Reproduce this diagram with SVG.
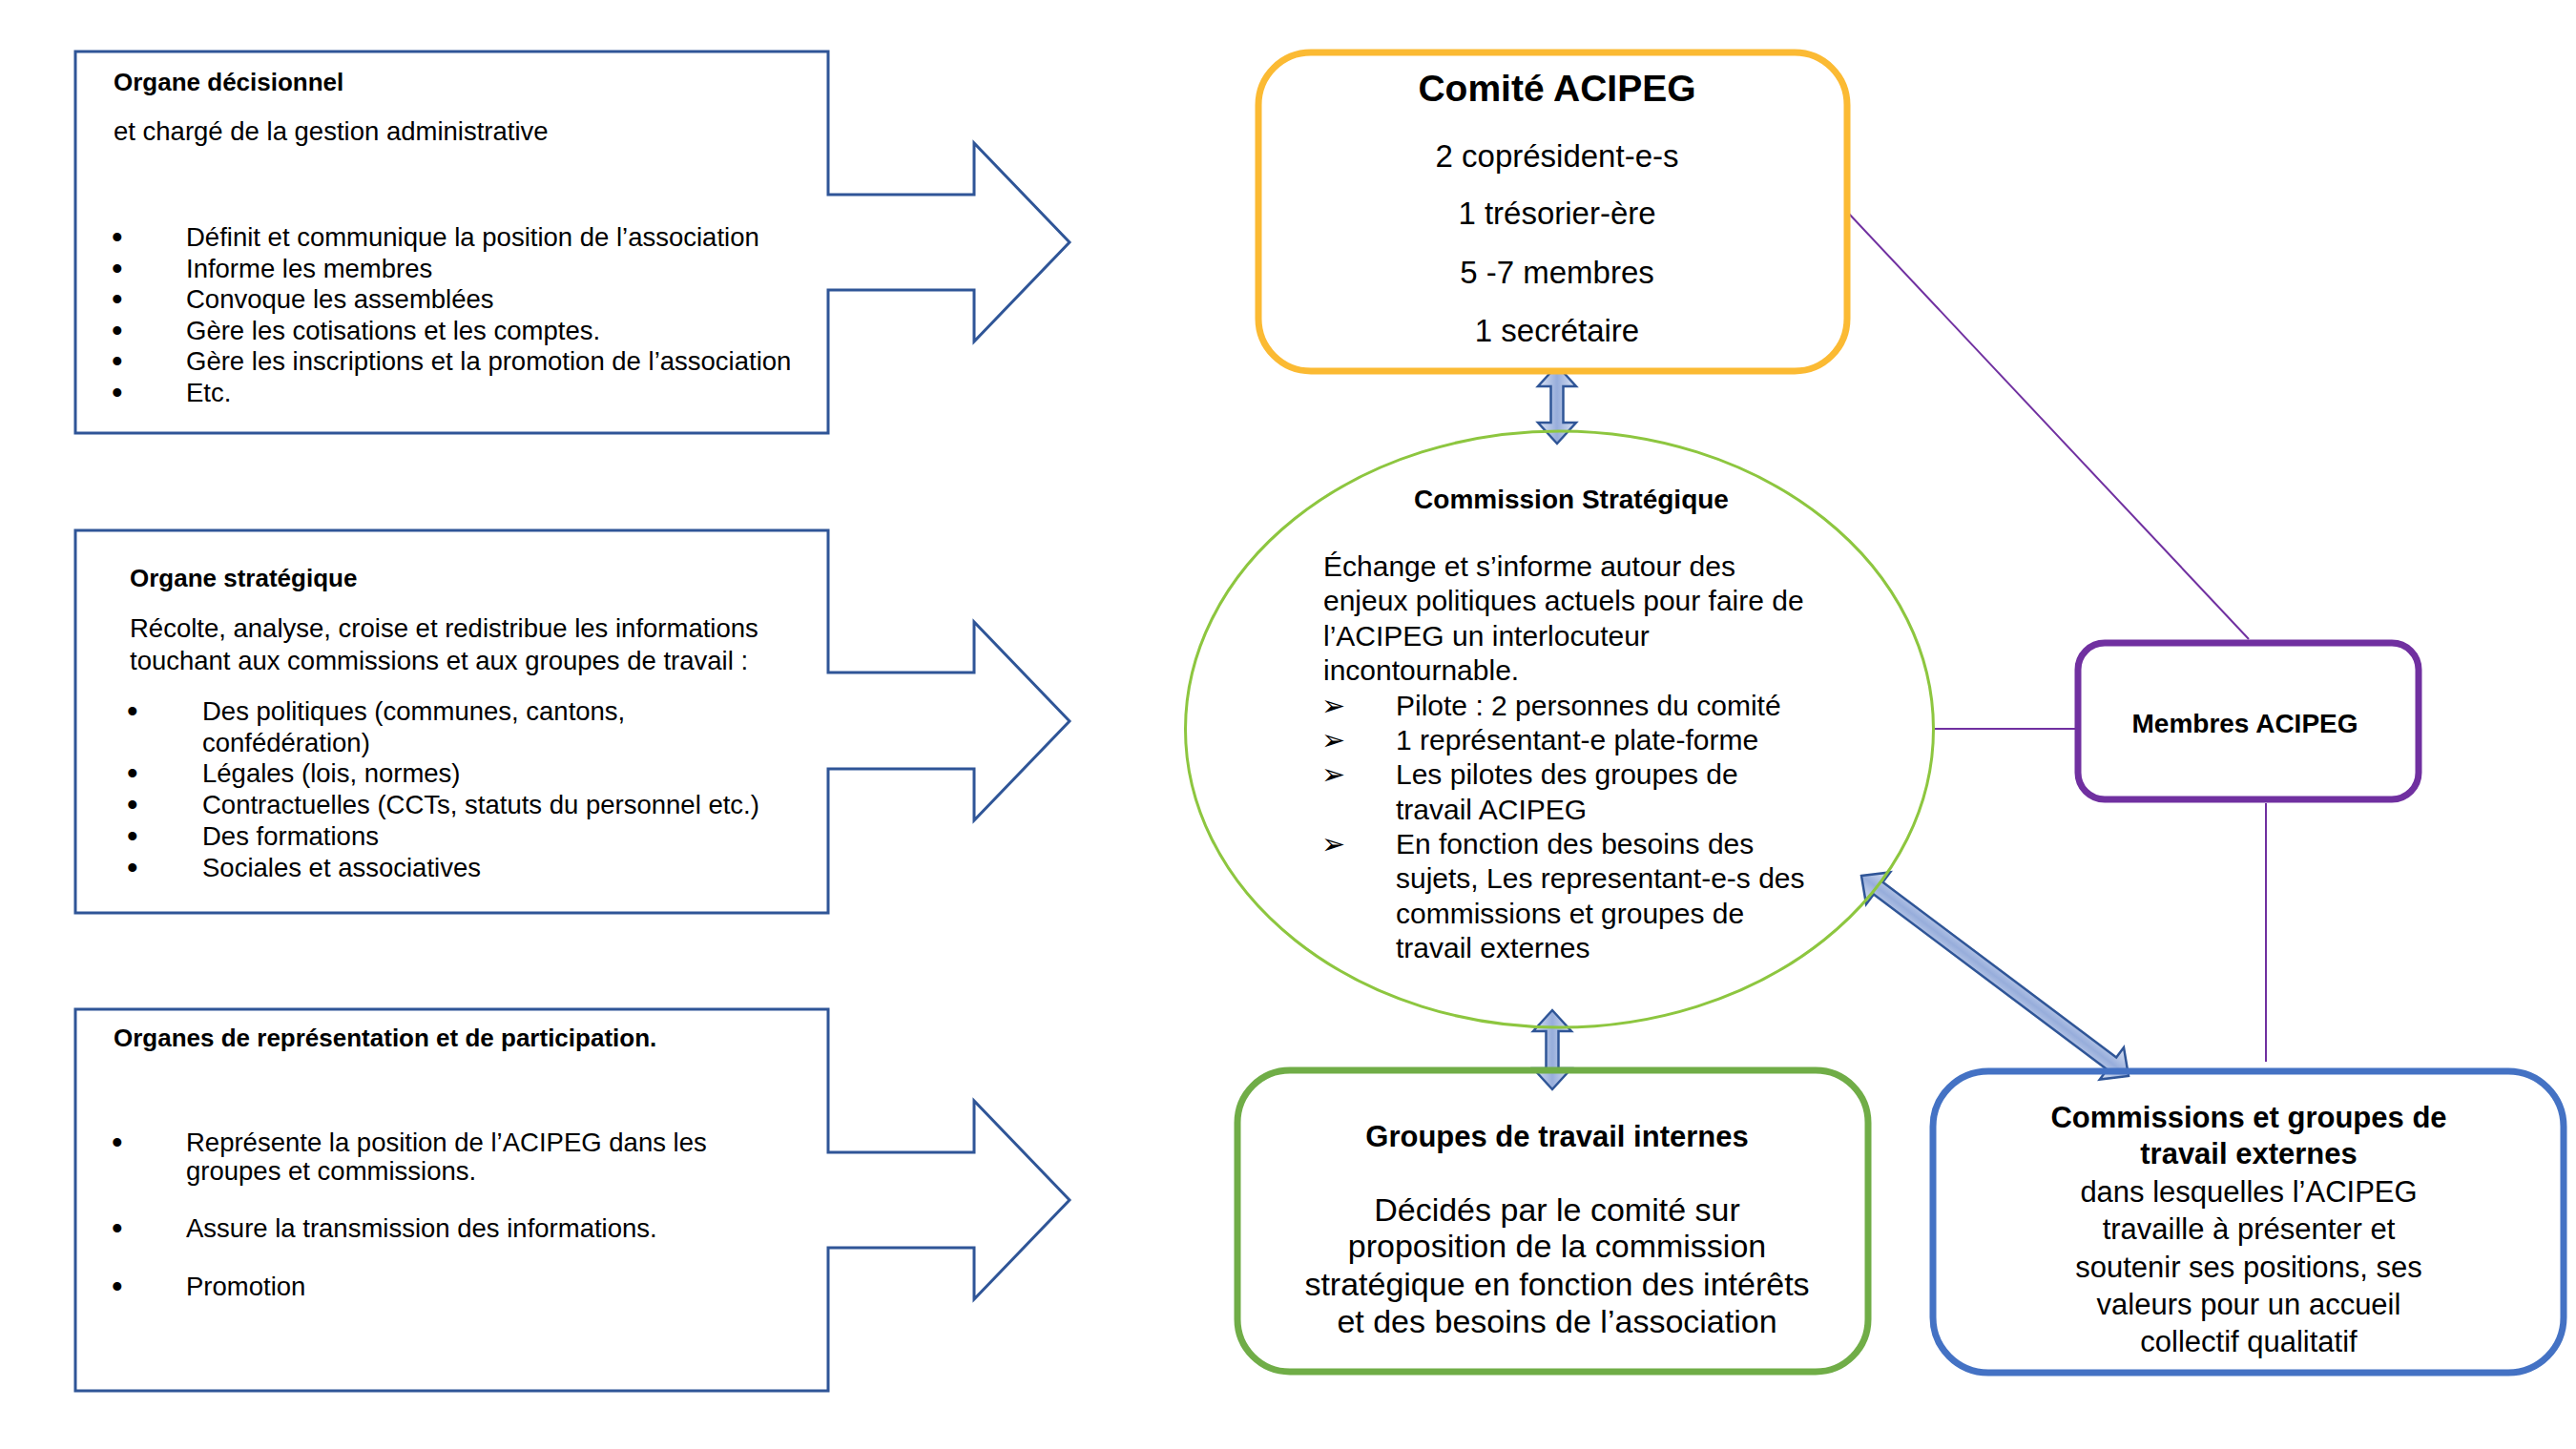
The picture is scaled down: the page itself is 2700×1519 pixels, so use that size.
<svg xmlns="http://www.w3.org/2000/svg" width="2700" height="1519" viewBox="0 0 2700 1519">
<defs>
<style>
text{font-family:"Liberation Sans",Arial,sans-serif;fill:#000}
.b{font-weight:bold}
.lt{font-size:27.5px}
.lh{font-size:26px;font-weight:bold}
.bu{font-size:33px}
.call{fill:#fff;stroke:#2F5597;stroke-width:3}
.conn{stroke:#7030A0;stroke-width:2;fill:none}
.dbl{fill:url(#ag);stroke:#2F5597;stroke-width:2.5;stroke-linejoin:miter}
.c{text-anchor:middle}
.ar{font-family:"DejaVu Sans",sans-serif;font-size:30px}
</style>
<linearGradient id="ag" x1="0" y1="0" x2="0" y2="1">
<stop offset="0" stop-color="#DCE4F4"/>
<stop offset="0.5" stop-color="#97ADDB"/>
<stop offset="1" stop-color="#DCE4F4"/>
</linearGradient>
</defs>
<rect width="2700" height="1519" fill="#fff"/>

<g id="organe-decisionnel">
<path class="call" d="M79,54 H868 V204 H1021 V150 L1121,254 L1021,358 V304 H868 V454 H79 Z"/>
<text class="lh" x="119" y="95">Organe décisionnel</text>
<text class="lt" x="119" y="147">et chargé de la gestion administrative</text>
<g class="lt">
<text class="bu" x="117" y="260">•</text><text x="195" y="258">Définit et communique la position de l’association</text>
<text class="bu" x="117" y="292.6">•</text><text x="195" y="290.6">Informe les membres</text>
<text class="bu" x="117" y="325.2">•</text><text x="195" y="323.2">Convoque les assemblées</text>
<text class="bu" x="117" y="357.8">•</text><text x="195" y="355.8">Gère les cotisations et les comptes.</text>
<text class="bu" x="117" y="390.4">•</text><text x="195" y="388.4">Gère les inscriptions et la promotion de l’association</text>
<text class="bu" x="117" y="423">•</text><text x="195" y="421">Etc.</text>
</g>
</g>

<g id="organe-strategique">
<path class="call" d="M79,556 H868 V705 H1021 V652 L1121,756 L1021,860 V806 H868 V957 H79 Z"/>
<text class="lh" x="136" y="615">Organe stratégique</text>
<text class="lt" x="136" y="668">Récolte, analyse, croise et redistribue les informations</text>
<text class="lt" x="136" y="702">touchant aux commissions et aux groupes de travail :</text>
<g class="lt">
<text class="bu" x="133" y="757">•</text><text x="212" y="755">Des politiques (communes, cantons,</text>
<text x="212" y="787.7">confédération)</text>
<text class="bu" x="133" y="822.4">•</text><text x="212" y="820.4">Légales (lois, normes)</text>
<text class="bu" x="133" y="855">•</text><text x="212" y="853">Contractuelles (CCTs, statuts du personnel etc.)</text>
<text class="bu" x="133" y="887.8">•</text><text x="212" y="885.8">Des formations</text>
<text class="bu" x="133" y="920.5">•</text><text x="212" y="918.5">Sociales et associatives</text>
</g>
</g>

<g id="organes-representation">
<path class="call" d="M79,1058 H868 V1208 H1021 V1154 L1121,1258 L1021,1362 V1308 H868 V1458 H79 Z"/>
<text class="lh" x="119" y="1097">Organes de représentation et de participation.</text>
<g class="lt">
<text class="bu" x="117" y="1209">•</text><text x="195" y="1207">Représente la position de l’ACIPEG dans les</text>
<text x="195" y="1237">groupes et commissions.</text>
<text class="bu" x="117" y="1299">•</text><text x="195" y="1297">Assure la transmission des informations.</text>
<text class="bu" x="117" y="1360">•</text><text x="195" y="1358">Promotion</text>
</g>
</g>

<g id="connectors">
<line class="conn" x1="1937" y1="223" x2="2357" y2="670"/>
<line class="conn" x1="2027" y1="764" x2="2176" y2="764"/>
<line class="conn" x1="2375" y1="842" x2="2375" y2="1113"/>
<polygon class="dbl" transform="translate(1632,383) rotate(90)" points="0,0 22,-20 22,-6.5 60,-6.5 60,-20 82,0 60,20 60,6.5 22,6.5 22,20"/>
<polygon class="dbl" transform="translate(1627,1059) rotate(90)" points="0,0 22,-20 22,-6.5 61,-6.5 61,-20 83,0 61,20 61,6.5 22,6.5 22,20"/>
<polygon class="dbl" transform="translate(1951,918) rotate(36.87)" points="0,0 22,-21 22,-8 328,-8 328,-21 350,0 328,21 328,8 22,8 22,21"/>
</g>

<g id="comite">
<rect x="1319" y="55" width="617" height="334" rx="55" ry="55" fill="#fff" stroke="#FBBA33" stroke-width="7"/>
<text class="b c" x="1632" y="106" font-size="39">Comité ACIPEG</text>
<text class="c" x="1632" y="175" font-size="33">2 coprésident-e-s</text>
<text class="c" x="1632" y="235" font-size="33">1 trésorier-ère</text>
<text class="c" x="1632" y="297" font-size="33">5 -7 membres</text>
<text class="c" x="1632" y="358" font-size="33">1 secrétaire</text>
</g>

<g id="commission-strategique">
<ellipse cx="1634.5" cy="764.5" rx="392" ry="312.5" fill="none" stroke="#8DC63F" stroke-width="3"/>
<text class="b c" x="1647" y="533" font-size="28">Commission Stratégique</text>
<g font-size="30">
<text x="1387" y="604">Échange et s’informe autour des</text>
<text x="1387" y="640.4">enjeux politiques actuels pour faire de</text>
<text x="1387" y="676.7">l’ACIPEG un interlocuteur</text>
<text x="1387" y="713.1">incontournable.</text>
<text class="ar" x="1385" y="749.5">➢</text><text x="1463" y="749.5">Pilote : 2 personnes du comité</text>
<text class="ar" x="1385" y="785.8">➢</text><text x="1463" y="785.8">1 représentant-e plate-forme</text>
<text class="ar" x="1385" y="822.2">➢</text><text x="1463" y="822.2">Les pilotes des groupes de</text>
<text x="1463" y="858.5">travail ACIPEG</text>
<text class="ar" x="1385" y="894.9">➢</text><text x="1463" y="894.9">En fonction des besoins des</text>
<text x="1463" y="931.2">sujets, Les representant-e-s des</text>
<text x="1463" y="967.6">commissions et groupes de</text>
<text x="1463" y="1004">travail externes</text>
</g>
</g>

<g id="membres">
<rect x="2178" y="674" width="357" height="164" rx="28" ry="28" fill="#fff" stroke="#7030A0" stroke-width="7"/>
<text class="b c" x="2353" y="768" font-size="28">Membres ACIPEG</text>
</g>

<g id="groupes-internes">
<rect x="1297" y="1122" width="661" height="316" rx="55" ry="55" fill="none" stroke="#70AD47" stroke-width="7"/>
<text class="b c" x="1632" y="1202" font-size="31">Groupes de travail internes</text>
<g class="c" font-size="34">
<text x="1632" y="1280">Décidés par le comité sur</text>
<text x="1632" y="1318">proposition de la commission</text>
<text x="1632" y="1358">stratégique en fonction des intérêts</text>
<text x="1632" y="1397">et des besoins de l’association</text>
</g>
</g>

<g id="commissions-externes">
<rect x="2026" y="1123" width="661" height="316" rx="58" ry="58" fill="none" stroke="#4472C4" stroke-width="7"/>
<text class="b c" x="2357" y="1182" font-size="31">Commissions et groupes de</text>
<text class="b c" x="2357" y="1220" font-size="31">travail externes</text>
<g class="c" font-size="31">
<text x="2357" y="1260">dans lesquelles l’ACIPEG</text>
<text x="2357" y="1299">travaille à présenter et</text>
<text x="2357" y="1339">soutenir ses positions, ses</text>
<text x="2357" y="1378">valeurs pour un accueil</text>
<text x="2357" y="1417">collectif qualitatif</text>
</g>
</g>
</svg>
